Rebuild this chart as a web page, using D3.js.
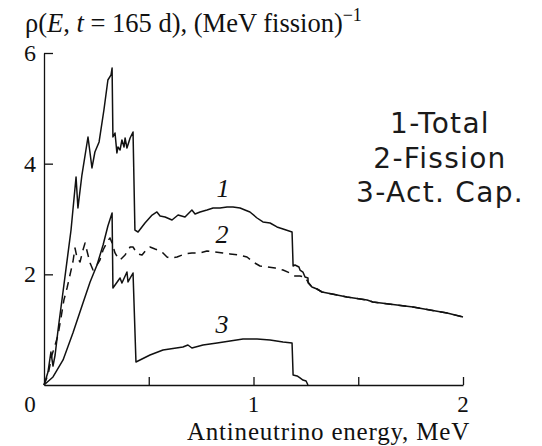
<!DOCTYPE html>
<html>
<head>
<meta charset="utf-8">
<script src="https://cdn.jsdelivr.net/npm/d3@7"></script>
<style>
  body { margin: 0; background: #fff; }
  svg { display: block; }
  .serif { font-family: "Liberation Serif", "Times New Roman", serif; fill: #111; }
  .legend { font-family: "DejaVu Sans", sans-serif; fill: #1a1a1a; letter-spacing: 1.3px; }
</style>
</head>
<body>
<svg id="chart" width="542" height="446"></svg>
<script>
/////////   Data   /////////

// Curve 1 - total spectrum
let totalE = [0, 0.019, 0.033, 0.043, 0.053, 0.067, 0.095, 0.129, 0.153, 0.162, 0.181, 0.210, 0.229, 0.243,
  0.263, 0.286, 0.305, 0.320, 0.325, 0.329, 0.339, 0.348, 0.353, 0.363, 0.372, 0.382, 0.387, 0.396, 0.411,
  0.425, 0.434, 0.449, 0.482, 0.516, 0.539, 0.554, 0.578, 0.611, 0.640, 0.673, 0.706, 0.721, 0.745, 0.778,
  0.807, 0.840, 0.874, 0.902, 0.936, 0.959, 0.983, 1.017, 1.045, 1.079, 1.112, 1.141, 1.184, 1.189, 1.198,
  1.217, 1.222, 1.236, 1.246, 1.260, 1.261, 1.279, 1.303, 1.327, 1.351, 1.446, 1.542, 1.570, 1.685, 1.761,
  1.842, 1.924, 2.000];
let totalRho = [0, 0.235, 0.596, 0.343, 0.542, 0.994, 1.807, 2.801, 3.759, 3.199, 3.795, 4.482, 3.922, 4.211,
  4.392, 4.970, 5.512, 5.603, 5.729, 4.482, 4.554, 4.193, 4.301, 4.247, 4.428, 4.301, 4.464, 4.283, 4.464,
  4.573, 2.801, 2.765, 2.928, 3.072, 3.127, 3.054, 3.036, 2.982, 3.072, 3.036, 3.163, 3.091, 3.127, 3.163,
  3.199, 3.199, 3.217, 3.217, 3.199, 3.163, 3.127, 3.018, 2.946, 2.928, 2.856, 2.819, 2.765, 2.151, 2.169,
  2.133, 2.078, 2.042, 1.952, 1.934, 1.843, 1.771, 1.735, 1.681, 1.663, 1.590, 1.536, 1.500, 1.446, 1.410,
  1.355, 1.301, 1.229];

// Curve 2 - fission (dashed)
let fissionE = [0, 0.019, 0.038, 0.053, 0.067, 0.081, 0.095, 0.110, 0.124, 0.138, 0.148, 0.158, 0.172, 0.186,
  0.196, 0.210, 0.220, 0.234, 0.253, 0.267, 0.282, 0.301, 0.315, 0.325, 0.339, 0.353, 0.363, 0.387, 0.411,
  0.425, 0.434, 0.449, 0.468, 0.487, 0.506, 0.530, 0.544, 0.568, 0.587, 0.601, 0.635, 0.673, 0.706, 0.745,
  0.778, 0.816, 0.854, 0.888, 0.926, 0.969, 0.998, 1.031, 1.064, 1.103, 1.141, 1.174, 1.198, 1.222, 1.246,
  1.260, 1.279, 1.303, 1.327, 1.351, 1.446, 1.542, 1.570, 1.685, 1.761, 1.842, 1.924, 2.000];
let fissionRho = [0, 0.181, 0.542, 0.723, 0.904, 1.211, 1.536, 1.753, 1.988, 2.223, 2.476, 2.295, 2.223, 2.440,
  2.566, 2.350, 2.205, 2.078, 2.169, 2.259, 2.440, 2.584, 2.657, 2.566, 2.386, 2.295, 2.259, 2.350, 2.494,
  2.494, 2.440, 2.368, 2.350, 2.440, 2.494, 2.458, 2.440, 2.386, 2.313, 2.295, 2.313, 2.368, 2.386, 2.386,
  2.422, 2.404, 2.386, 2.368, 2.350, 2.313, 2.223, 2.151, 2.133, 2.115, 2.078, 2.024, 1.970, 1.970, 1.952,
  1.862, 1.771, 1.735, 1.681, 1.663, 1.590, 1.536, 1.500, 1.446, 1.410, 1.355, 1.301, 1.229];

// Curve 3 - activation / capture
let captureE = [0, 0.043, 0.091, 0.138, 0.186, 0.220, 0.253, 0.282, 0.305, 0.325, 0.329, 0.363, 0.372, 0.396,
  0.401, 0.425, 0.439, 0.506, 0.568, 0.663, 0.687, 0.706, 0.759, 0.826, 0.888, 0.950, 1.017, 1.079, 1.141,
  1.184, 1.189, 1.208, 1.222, 1.236, 1.251, 1.260];
let captureRho = [0, 0.145, 0.452, 0.940, 1.482, 1.862, 2.169, 2.530, 2.874, 3.109, 1.753, 1.934, 1.843, 2.042,
  1.862, 2.024, 0.416, 0.542, 0.633, 0.687, 0.723, 0.669, 0.723, 0.759, 0.795, 0.831, 0.831, 0.813, 0.777,
  0.759, 0.181, 0.163, 0.127, 0.090, 0.072, 0];

// Axis ticks and labels
let xTicks = [0.5, 1, 1.5, 2];
let xTickLabels = ["0", "1", "2"];
let yTicks = [2, 4, 6];
let curveTags = ["1", "2", "3"];
let legendLines = ["1-Total", "2-Fission", "3-Act. Cap."];

/////////   Drawing   /////////

let svg = d3.select("#chart");

let x = d3.scaleLinear().domain([0, 2]).range([44, 463]);
let y = d3.scaleLinear().domain([0, 6]).range([385, 53]);

// axes (ticks point inwards)
svg.append("g")
  .attr("transform", "translate(0," + y(0) + ")")
  .call(d3.axisBottom(x).tickValues(xTicks).tickSizeInner(-8).tickSizeOuter(0).tickFormat(""));
svg.append("g")
  .attr("transform", "translate(" + x(0) + ",0)")
  .call(d3.axisLeft(y).tickValues(yTicks).tickSizeInner(-9).tickSizeOuter(0).tickFormat(""));
svg.selectAll(".domain, .tick line").attr("stroke", "#111").attr("stroke-width", 1.3);

// tick labels
svg.selectAll(".xlab")
  .data(xTickLabels)
  .enter()
  .append("text")
  .attr("class", "serif")
  .attr("x", (d) => (d === "0" ? x(0) - 14 : x(+d)))
  .attr("y", 412)
  .attr("text-anchor", "middle")
  .attr("font-size", 23)
  .text((d) => d);

svg.selectAll(".ylab")
  .data(yTicks)
  .enter()
  .append("text")
  .attr("class", "serif")
  .attr("x", 36)
  .attr("y", (d) => y(d) + 8)
  .attr("text-anchor", "end")
  .attr("font-size", 24)
  .text((d) => d);

// titles
let title = svg.append("text").attr("class", "serif").attr("x", 25).attr("y", 32).attr("font-size", 26.5);
title.append("tspan").text("ρ(");
title.append("tspan").attr("font-style", "italic").text("E");
title.append("tspan").text(", ");
title.append("tspan").attr("font-style", "italic").text("t");
title.append("tspan").text(" = 165 d), (MeV fission)");
title.append("tspan").attr("dy", -11).attr("font-size", 18).text("−1");

svg.append("text")
  .attr("class", "serif")
  .attr("x", 470)
  .attr("y", 439.5)
  .attr("text-anchor", "end")
  .attr("font-size", 25)
  .attr("letter-spacing", 0.8)
  .text("Antineutrino energy, MeV");

// curves
let line = d3.line()
  .x((d) => x(d[0]))
  .y((d) => y(d[1]));

let curves = [
  { e: fissionE, r: fissionRho, dash: "8,6" },
  { e: captureE, r: captureRho, dash: null },
  { e: totalE, r: totalRho, dash: null },
];

curves.forEach(function (c) {
  svg.append("path")
    .datum(d3.zip(c.e, c.r))
    .attr("d", line)
    .attr("fill", "none")
    .attr("stroke", "#111")
    .attr("stroke-width", 1.5)
    .attr("stroke-linejoin", "round")
    .attr("stroke-dasharray", c.dash);
});

// curve numbers
let tagPos = [[0.855, 3.40], [0.85, 2.57], [0.85, 0.94]];
svg.selectAll(".tag")
  .data(curveTags)
  .enter()
  .append("text")
  .attr("class", "serif")
  .attr("x", (d, i) => x(tagPos[i][0]))
  .attr("y", (d, i) => y(tagPos[i][1]))
  .attr("text-anchor", "middle")
  .attr("font-style", "italic")
  .attr("font-size", 26)
  .text((d) => d);

// legend text
svg.selectAll(".leg")
  .data(legendLines)
  .enter()
  .append("text")
  .attr("class", "legend")
  .attr("x", 440)
  .attr("y", (d, i) => 133 + i * 34.5)
  .attr("text-anchor", "middle")
  .attr("font-size", 28)
  .text((d) => d);
</script>
</body>
</html>
